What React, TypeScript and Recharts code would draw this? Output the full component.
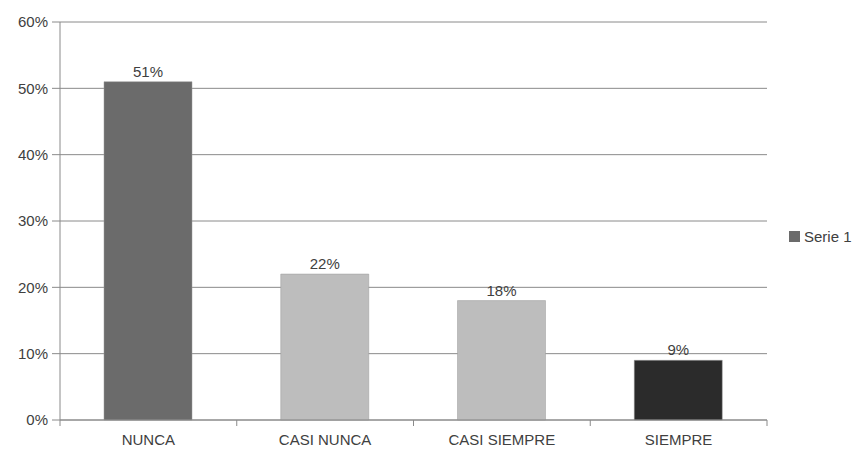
import React from "react";
import {
  BarChart,
  Bar,
  XAxis,
  YAxis,
  CartesianGrid,
  Legend,
  LabelList,
  Cell,
} from "recharts";

const categories = ["NUNCA", "CASI NUNCA", "CASI SIEMPRE", "SIEMPRE"];
const serie1 = [51, 22, 18, 9];
const yTicks = [0, 10, 20, 30, 40, 50, 60];
const seriesName = "Serie 1";

const barColors = ["#6b6b6b", "#bdbdbd", "#bdbdbd", "#2b2b2b"];
const textColor = "#404040";
const fontFamily = "'Liberation Sans', Arial, sans-serif";

const data = categories.map((name, i) => ({ name, value: serie1[i] }));

function CategoryTick(props: any) {
  const { x, y, payload, index } = props;
  const half = payload.offset || 0;
  return (
    <g>
      <line x1={x - half} y1={y - 8} x2={x - half} y2={y - 2} stroke="#8a8a8a" />
      {index === categories.length - 1 && (
        <line x1={x + half} y1={y - 8} x2={x + half} y2={y - 2} stroke="#8a8a8a" />
      )}
      <text
        x={x}
        y={y + 17}
        textAnchor="middle"
        fill={textColor}
        fontSize={15}
        fontFamily={fontFamily}
      >
        {payload.value}
      </text>
    </g>
  );
}

function LegendContent() {
  return (
    <div style={{ display: "flex", alignItems: "center", fontFamily, fontSize: 15, color: textColor }}>
      <span style={{ width: 11, height: 11, background: barColors[0], marginRight: 4, display: "inline-block" }} />
      <span>{seriesName}</span>
    </div>
  );
}

export default function App() {
  return (
    <div style={{ position: "absolute", left: 0, top: 0 }}>
      <BarChart
        width={864}
        height={451}
        data={data}
        margin={{ top: 22, right: 97, bottom: 0, left: 0 }}
        barSize={88}
      >
        <CartesianGrid vertical={false} stroke="#8a8a8a" />
        <XAxis
          dataKey="name"
          height={31}
          tickLine={false}
          axisLine={{ stroke: "#8a8a8a" }}
          tick={<CategoryTick />}
          interval={0}
        />
        <YAxis
          width={60}
          domain={[0, 60]}
          ticks={yTicks}
          tickFormatter={(v: number) => `${v}%`}
          tickSize={8}
          tickMargin={4}
          axisLine={{ stroke: "#8a8a8a" }}
          tickLine={{ stroke: "#8a8a8a" }}
          tick={{ fill: textColor, fontSize: 15, fontFamily }}
        />
        <YAxis
          yAxisId="border"
          orientation="right"
          width={0}
          domain={[0, 60]}
          tick={false}
          tickLine={false}
          axisLine={{ stroke: "#d6d6d6" }}
        />
        <Legend
          layout="horizontal"
          align="center"
          verticalAlign="middle"
          content={<LegendContent />}
          wrapperStyle={{ left: 789, top: 228, width: 80, height: 20 }}
        />
        <Bar dataKey="value" name={seriesName} isAnimationActive={false}>
          {data.map((d, i) => (
            <Cell key={d.name} fill={barColors[i]} stroke="#9a9a9a" strokeWidth={0.5} />
          ))}
          <LabelList
            dataKey="value"
            position="top"
            offset={5}
            formatter={(v: any) => `${v}%`}
            fill={textColor}
            fontSize={15}
            fontFamily={fontFamily}
          />
        </Bar>
      </BarChart>
    </div>
  );
}
